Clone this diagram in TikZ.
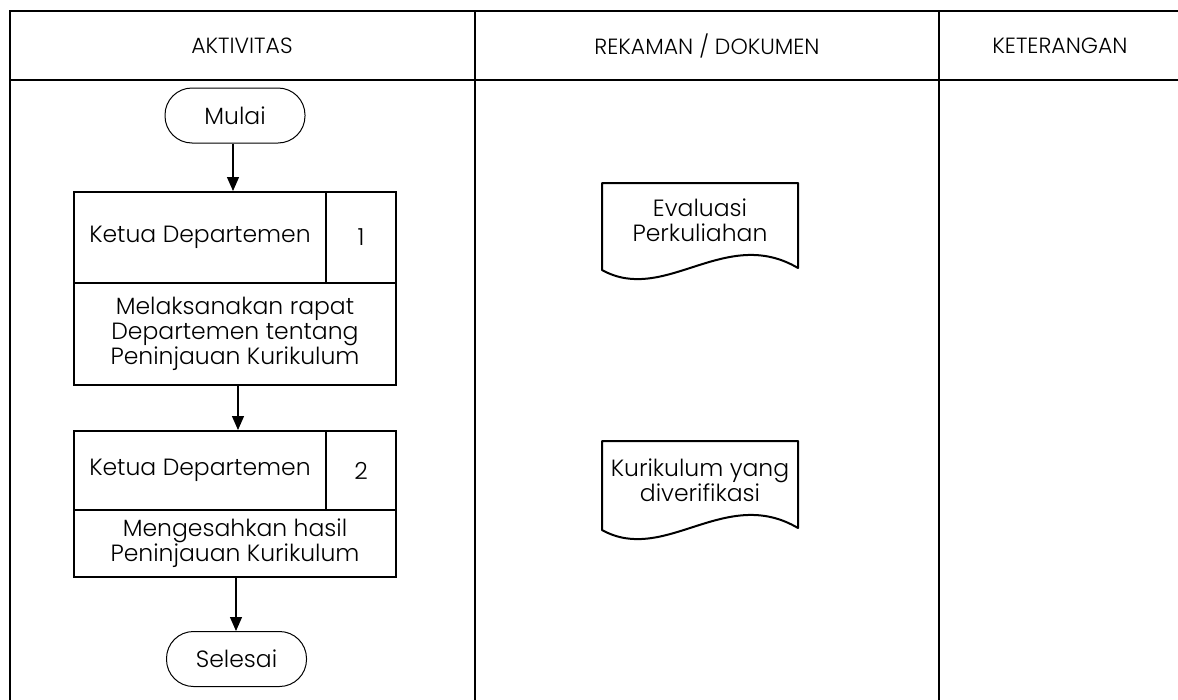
\documentclass[tikz,border=0pt]{standalone}
\usepackage{fontspec}
\setmainfont{Poppins}[UprightFont=* Light]
\usetikzlibrary{arrows.meta}
\tikzset{
  grid/.style={line width=2pt, line cap=rect},
  term/.style={draw, line width=1pt, rounded corners=27pt, minimum width=140pt, minimum height=55pt, font=\fontsize{23.5}{25}\selectfont, inner sep=0pt},
  cell/.style={draw, line width=2pt, inner sep=0pt, font=\fontsize{23.5}{25}\selectfont, align=center},
  doctext/.style={inner sep=0pt, align=center, font=\fontsize{23.5}{25}\selectfont},
  head/.style={inner sep=0pt, font=\fontsize{22}{25}\selectfont},
  flow/.style={line width=1.3pt, -{Triangle[length=14pt,width=12pt]}},
  docshape/.style={line width=2pt, line join=round}
}
\begin{document}
\begin{tikzpicture}[x=1pt,y=-1pt]
\useasboundingbox (0,0) rectangle (1178,699);
% table
\draw[grid] (1178,11) -- (10,11) -- (10,699);
\draw[grid] (10,80) -- (1178,80);
\draw[grid] (475,11) -- (475,699);
\draw[grid] (939,11) -- (939,699);
\node[head] (h1) at (242,46) {AKTIVITAS};
\node[head] (h2) at (707,46) {REKAMAN / DOKUMEN};
\node[head] (h3) at (1060,46) {KETERANGAN};
% start
\node[term] (mulai) at (235,115.5) {Mulai};
% step 1
\node[cell, minimum width=252pt, minimum height=91pt] (k1) at (200,237.5) {Ketua Departemen};
\node[cell, minimum width=70pt, minimum height=91pt] (n1) at (361,237.5) {1};
\node[cell, minimum width=322pt, minimum height=102pt] (d1) at (235,334) {Melaksanakan rapat\\Departemen tentang\\Peninjauan Kurikulum};
% step 2
\node[cell, minimum width=252pt, minimum height=79pt] (k2) at (200,470.5) {Ketua Departemen};
\node[cell, minimum width=70pt, minimum height=79pt] (n2) at (361,470.5) {2};
\node[cell, minimum width=322pt, minimum height=67pt] (d2) at (235,543.5) {Mengesahkan hasil\\Peninjauan Kurikulum};
% end
\node[term] (selesai) at (236.5,659) {Selesai};
% arrows
\draw[flow] (mulai.south -| 233,0) -- (233,0 |- k1.north);
\draw[flow] (238,0 |- d1.south) -- (238,0 |- k2.north);
\draw[flow] (236,0 |- d2.south) -- (selesai.north -| 236,0);
% documents
\node[doctext] (doc1) at (700,220) {Evaluasi\\Perkuliahan};
\draw[docshape] (602,270) -- (602,183) -- (798,183) -- (798,268)
  .. controls (725,225) and (665,305) .. (602,270) -- cycle;
\node[doctext] (doc2) at (700,480) {Kurikulum yang\\diverifikasi};
\draw[docshape] (602,530) -- (602,441) -- (798,441) -- (798,528)
  .. controls (725,485) and (665,565) .. (602,530) -- cycle;
\end{tikzpicture}
\end{document}
